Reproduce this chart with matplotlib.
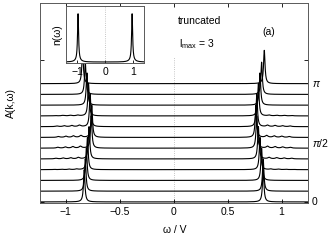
import numpy as np
import matplotlib.pyplot as plt

plt.rcParams['font.family'] = ['Liberation Sans', 'DejaVu Sans']
plt.rcParams['mathtext.fontset'] = 'custom'
plt.rcParams['mathtext.rm'] = 'Liberation Sans'
plt.rcParams['mathtext.it'] = 'Liberation Sans:italic'

# peak positions for k = n*pi/11, n = 0..11
w_plus = [0.83, 0.83, 0.815, 0.80, 0.785, 0.77, 0.762, 0.77, 0.785, 0.80, 0.815, 0.84]
w_minus = [-0.83, -0.82, -0.81, -0.80, -0.785, -0.765, -0.76, -0.775, -0.79, -0.805, -0.82, -0.845]
peak_h = [3.0, 3.0, 3.0, 3.0, 3.0, 3.0, 3.0, 3.0, 3.0, 3.0, 3.0, 3.1]
wiggle_amp = [0.0, 0.0, 0.0, 0.06, 0.13, 0.17, 0.17, 0.13, 0.07, 0.0, 0.0, 0.0]
k_labels = ['0', r'$\pi$/2', r'$\pi$']
k_label_pos = [0, 5.5, 11]

# inset n(omega)
n_peaks = [-0.97, 0.97]
n_height = [0.82, 0.82]

def lor(w, w0, g):
    return g**2 / ((w - w0)**2 + g**2)

w = np.linspace(-1.24, 1.25, 4000)

fig = plt.figure(figsize=(3.32, 2.42), dpi=100)
ax = fig.add_axes([0.1205, 0.1612, 0.8087, 0.8264])

ax.plot([0, 0], [0, 13.5], color='0.7', lw=0.6, ls=':', zorder=1)
for n in range(len(w_plus)):
    a = peak_h[n] * (lor(w, w_plus[n], 0.008) + lor(w, w_minus[n], 0.008))
    for j in range(1, 5):
        amp = wiggle_amp[n] * (1.0 - 0.18 * (j - 1))
        a += amp * lor(w, w_plus[n] + 0.03 + 0.07 * j, 0.014)
        a += amp * lor(w, w_minus[n] - 0.03 - 0.07 * j, 0.014)
    ax.plot(w, n + a, color='black', lw=0.8, zorder=2)

ax.set_xlim(-1.24, 1.25)
ax.set_ylim(-0.1, 18.5)
ax.set_xticks([-1, -0.5, 0, 0.5, 1])
ax.set_xticklabels(['\u22121', '\u22120.5', '0', '0.5', '1'])
ax.set_yticks([0, 13.2])
ax.set_yticklabels([])
ax.tick_params(direction='in', top=True, right=True, labelsize=7.5, length=3, width=0.6, pad=3)
for s in ax.spines.values():
    s.set_linewidth(0.7)
    s.set_color('0.35')
ax.set_xlabel('\u03c9 / V', fontsize=7.5, labelpad=6)
ax.set_ylabel('A(k,\u03c9)', fontsize=7.5, labelpad=14)

for lab, yp in zip(k_labels, k_label_pos):
    ax.text(1.013, yp, lab, transform=ax.get_yaxis_transform(), fontsize=7.5,
            va='center', ha='left')

ax.text(0.04, 16.8, 'truncated', fontsize=7.5, va='center', ha='left')
ax.text(0.045, 14.7, r'l$_{\mathrm{max}}$ = 3', fontsize=7.5, va='center', ha='left')
ax.text(0.88, 15.8, '(a)', fontsize=7.5, va='center', ha='center')

# inset
ins = fig.add_axes([0.199, 0.740, 0.235, 0.236])
wi = np.linspace(-1.4, 1.4, 2000)
nw = np.zeros_like(wi)
for p, h in zip(n_peaks, n_height):
    nw += h * lor(wi, p, 0.022) + 0.025 * lor(wi, p, 0.12)
ins.plot([0, 0], [0, 1], color='0.7', lw=0.6, ls=':')
ins.plot(wi, nw + 0.015, color='black', lw=0.8)
ins.set_xlim(-1.4, 1.4)
ins.set_ylim(0, 1)
ins.set_xticks([-1, 0, 1])
ins.set_xticklabels(['\u22121', '0', '1'])
ins.set_yticks([])
ins.tick_params(direction='in', labelsize=7.5, length=2, width=0.6, pad=3)
for s in ins.spines.values():
    s.set_linewidth(0.7)
    s.set_color('0.35')
ins.set_ylabel('n(\u03c9)', fontsize=7.5, labelpad=3)

fig.savefig('out.png', dpi=100)
